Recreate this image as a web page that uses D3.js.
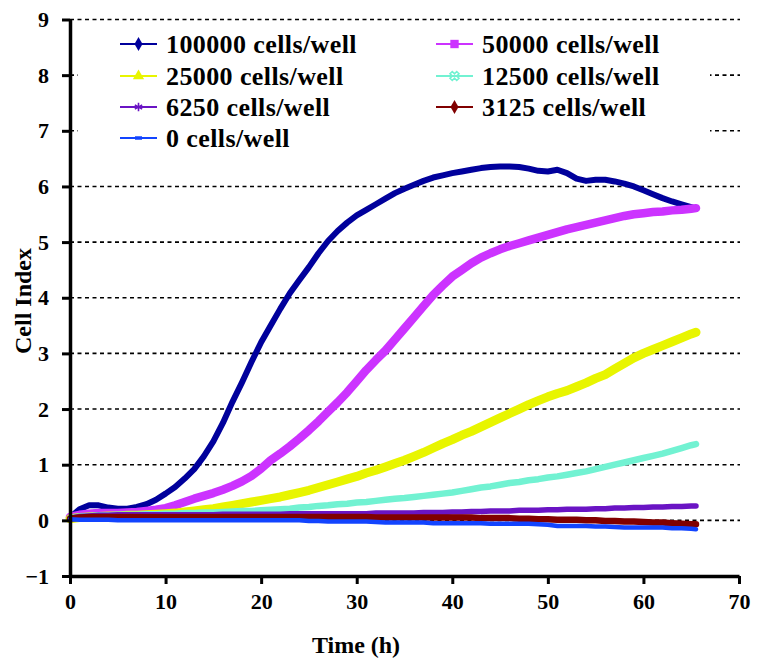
<!DOCTYPE html>
<html>
<head>
<meta charset="utf-8">
<script src="https://cdn.jsdelivr.net/npm/d3@7/dist/d3.min.js"></script>
<style>
  html, body { margin: 0; padding: 0; background: #fff; }
  svg { display: block; }
  text { font-family: "Liberation Serif", "Times New Roman", serif; font-weight: bold; fill: #000; }
</style>
</head>
<body>
<svg id="chart" width="765" height="668"></svg>
<script>
// ---- data ----
const hours = [0,1,2,3,4,5,6,7,8,9,10,11,12,13,14,15,16,17,18,19,20,21,22,23,24,25,26,27,28,29,30,31,32,33,34,35,36,37,38,39,40,41,42,43,44,45,46,47,48,49,50,51,52,53,54,55,56,57,58,59,60,61,62,63,64,65,65.5];

const cells100000 = [0.05,0.2,0.27,0.27,0.23,0.21,0.21,0.24,0.29,0.37,
  0.48,0.6,0.75,0.92,1.15,1.42,1.75,2.13,2.48,2.85,
  3.2,3.5,3.8,4.08,4.32,4.55,4.8,5.02,5.2,5.35,
  5.48,5.58,5.68,5.78,5.88,5.96,6.03,6.1,6.16,6.2,
  6.24,6.27,6.3,6.33,6.35,6.36,6.36,6.35,6.32,6.28,
  6.27,6.3,6.24,6.14,6.1,6.12,6.12,6.09,6.05,6.0,
  5.93,5.86,5.79,5.73,5.68,5.63,5.6];

const cells50000 = [0.06,0.1,0.12,0.13,0.13,0.13,0.14,0.15,0.17,0.19,
  0.22,0.27,0.33,0.39,0.44,0.49,0.55,0.62,0.7,0.8,
  0.93,1.08,1.2,1.33,1.47,1.62,1.78,1.95,2.12,2.3,
  2.5,2.7,2.88,3.05,3.25,3.45,3.65,3.85,4.05,4.22,
  4.38,4.5,4.62,4.72,4.8,4.87,4.93,4.98,5.03,5.08,
  5.13,5.18,5.23,5.27,5.31,5.35,5.39,5.43,5.47,5.5,
  5.52,5.54,5.55,5.57,5.58,5.6,5.61];

const cells25000 = [0.03,0.05,0.06,0.07,0.08,0.08,0.09,0.09,0.1,0.11,
  0.12,0.13,0.15,0.17,0.19,0.21,0.24,0.27,0.3,0.33,
  0.36,0.39,0.42,0.46,0.5,0.54,0.59,0.64,0.69,0.74,
  0.79,0.85,0.9,0.96,1.02,1.08,1.15,1.22,1.3,1.38,
  1.45,1.53,1.6,1.68,1.76,1.84,1.92,2.0,2.08,2.15,
  2.22,2.28,2.33,2.4,2.47,2.55,2.62,2.72,2.82,2.92,
  3.0,3.07,3.14,3.21,3.28,3.35,3.38];

const cells12500 = [0.04,0.07,0.08,0.09,0.09,0.1,0.1,0.1,0.11,0.11,
  0.12,0.12,0.13,0.13,0.14,0.14,0.15,0.16,0.17,0.17,
  0.18,0.19,0.2,0.21,0.23,0.24,0.26,0.27,0.29,0.3,
  0.32,0.33,0.35,0.37,0.39,0.4,0.42,0.44,0.46,0.48,
  0.5,0.53,0.56,0.59,0.61,0.64,0.67,0.69,0.72,0.74,
  0.77,0.79,0.82,0.85,0.88,0.92,0.96,1.0,1.04,1.08,
  1.12,1.16,1.2,1.25,1.3,1.35,1.37];

const cells6250 = [0.04,0.07,0.08,0.09,0.09,0.1,0.1,0.1,0.1,0.1,
  0.1,0.1,0.1,0.1,0.1,0.1,0.11,0.11,0.11,0.11,
  0.11,0.11,0.11,0.12,0.12,0.12,0.12,0.12,0.12,0.12,
  0.12,0.12,0.13,0.13,0.13,0.13,0.13,0.14,0.14,0.14,
  0.15,0.15,0.16,0.16,0.17,0.17,0.17,0.18,0.18,0.18,
  0.19,0.19,0.2,0.2,0.2,0.21,0.21,0.22,0.22,0.23,
  0.23,0.24,0.24,0.25,0.25,0.26,0.26];

const cells3125 = [0.03,0.05,0.06,0.06,0.06,0.06,0.06,0.06,0.06,0.06,
  0.06,0.06,0.06,0.06,0.06,0.06,0.06,0.06,0.06,0.06,
  0.06,0.06,0.06,0.06,0.06,0.06,0.06,0.06,0.06,0.06,
  0.06,0.06,0.05,0.05,0.05,0.05,0.05,0.05,0.05,0.05,
  0.05,0.05,0.05,0.04,0.04,0.04,0.04,0.03,0.03,0.02,
  0.02,0.01,0.01,0.01,0.0,0.0,-0.01,-0.01,-0.02,-0.02,
  -0.03,-0.04,-0.04,-0.05,-0.06,-0.07,-0.07];

const cells0 = [0.02,0.01,0.01,0.01,0.01,0.0,0.0,0.0,0.0,0.0,
  0.0,0.0,0.0,0.0,0.0,0.0,0.0,0.0,0.0,0.0,
  0.0,0.0,0.0,0.0,0.0,-0.01,-0.01,-0.02,-0.02,-0.02,
  -0.02,-0.02,-0.03,-0.04,-0.04,-0.04,-0.04,-0.04,-0.05,-0.05,
  -0.05,-0.05,-0.05,-0.05,-0.06,-0.06,-0.06,-0.06,-0.06,-0.07,
  -0.08,-0.1,-0.1,-0.1,-0.1,-0.11,-0.11,-0.12,-0.13,-0.13,
  -0.13,-0.13,-0.13,-0.14,-0.14,-0.15,-0.16];

const seriesNames = ["100000 cells/well","50000 cells/well","25000 cells/well","12500 cells/well","6250 cells/well","3125 cells/well","0 cells/well"];
const seriesValues = [cells100000, cells50000, cells25000, cells12500, cells6250, cells3125, cells0];
const seriesColors = ["#00009c","#cc33ff","#e8f500","#72f2d2","#6a14c4","#800000","#1244ff"];
const seriesWidths = [6, 8.5, 9, 6.5, 5.5, 6.5, 4.5];
const seriesMarkers = ["diamond","square","triangle","x","asterisk","diamond","dash"];

const xTicks = [0,10,20,30,40,50,60,70];
const yTicks = [-1,0,1,2,3,4,5,6,7,8,9];

// ---- layout ----
const svg = d3.select("#chart");
const x = d3.scaleLinear().domain([0,70]).range([70, 739]);
const y = d3.scaleLinear().domain([-1,9]).range([576, 19.5]);

// gridlines
svg.append("g").selectAll("line").data(yTicks.filter(d => d > -1)).join("line")
  .attr("x1", x(0)).attr("x2", 740)
  .attr("y1", d => y(d)).attr("y2", d => y(d))
  .attr("stroke", "#000").attr("stroke-width", 1.6).attr("stroke-dasharray", "4,3.5");

// legend background (hides grid behind legend)
svg.append("rect").attr("x", 78).attr("y", 27).attr("width", 632).attr("height", 128).attr("fill", "#fff");

// series
const line = d3.line().x((d,i) => x(hours[i])).y(d => y(d)).curve(d3.curveLinear);
const gS = svg.append("g");
seriesValues.forEach((vals, k) => {
  gS.append("path").datum(vals)
    .attr("d", line)
    .attr("fill", "none")
    .attr("stroke", seriesColors[k])
    .attr("stroke-width", seriesWidths[k])
    .attr("stroke-linejoin", "round")
    .attr("stroke-linecap", "round");
});

// axes
const yAxis = d3.axisLeft(y).tickValues(yTicks).tickSize(8).tickSizeOuter(0).tickPadding(13).tickFormat(d3.format("d"));
const xAxis = d3.axisBottom(x).tickValues(xTicks).tickSize(8).tickSizeOuter(0).tickPadding(9).tickFormat(d3.format("d"));

const gy = svg.append("g").attr("transform", `translate(${x(0)},0)`).call(yAxis);
const gx = svg.append("g").attr("transform", `translate(0,${y(-1)})`).call(xAxis);
[gx, gy].forEach(g => {
  g.select(".domain").attr("stroke", "#000").attr("stroke-width", 3.5);
  g.selectAll(".tick line").attr("stroke", "#000").attr("stroke-width", 3);
  g.selectAll(".tick text").style("font-family", '"Liberation Serif", serif')
    .style("font-weight", "bold").style("font-size", "22px").attr("fill", "#000");
});

// axis labels
svg.append("text").attr("x", 356).attr("y", 653).attr("text-anchor", "middle")
  .style("font-size", "24px").text("Time (h)");
svg.append("text").attr("transform", "translate(31,301) rotate(-90)").attr("text-anchor", "middle")
  .style("font-size", "24px").text("Cell Index");

// legend
const legendPos = [
  [120, 44],[436, 44],
  [120, 76],[436, 76],
  [120, 107],[436, 107],
  [120, 138]
];
const symbolTypes = {
  diamond: d3.symbolDiamond, square: d3.symbolSquare, triangle: d3.symbolTriangle,
  x: d3.symbolCross, asterisk: d3.symbolAsterisk
};
const gL = svg.append("g");
seriesNames.forEach((name, k) => {
  const [lx, ly] = legendPos[k];
  const g = gL.append("g").attr("transform", `translate(${lx},${ly})`);
  g.append("line").attr("x1", 0).attr("x2", 37).attr("y1", 0).attr("y2", 0)
    .attr("stroke", seriesColors[k]).attr("stroke-width", 2);
  const m = seriesMarkers[k];
  if (m === "dash") {
    g.append("line").attr("x1", 15).attr("x2", 22).attr("y1", 0).attr("y2", 0)
      .attr("stroke", seriesColors[k]).attr("stroke-width", 3.5);
  } else if (m === "x" || m === "asterisk") {
    g.append("path").attr("d", d3.symbol(symbolTypes[m], 50)())
      .attr("transform", `translate(18.5,0) rotate(${m === "x" ? 45 : 0})`)
      .attr("fill", "none").attr("stroke", seriesColors[k]).attr("stroke-width", 1.6);
  } else {
    g.append("path").attr("d", d3.symbol(symbolTypes[m], m === "square" ? 70 : 55)())
      .attr("transform", "translate(18.5,0)")
      .attr("fill", seriesColors[k]);
  }
  g.append("text").attr("x", 46).attr("y", 9).style("font-size", "26px")
    .style("letter-spacing", "0.4px").text(name);
});
</script>
</body>
</html>
